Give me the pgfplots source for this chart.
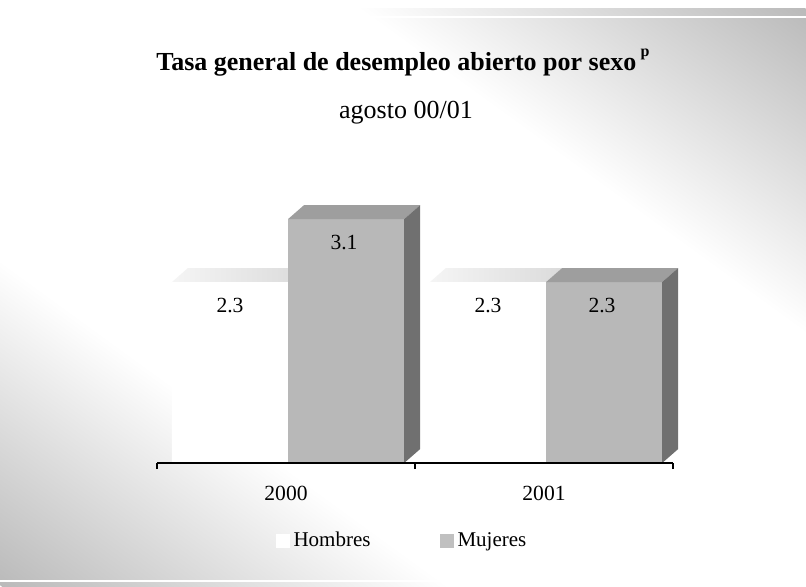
\documentclass[border=0pt]{standalone}
\usepackage{fontspec}
\setmainfont{Liberation Serif}
\usepackage{pgfplots}
\pgfplotsset{compat=1.18}
\definecolor{bgg}{RGB}{186,186,186}
\definecolor{mujF}{RGB}{184,184,184}
\definecolor{mujT}{RGB}{158,158,158}
\definecolor{mujR}{RGB}{112,112,112}
\definecolor{legM}{RGB}{192,192,192}
\pgfdeclarehorizontalshading{bgshade}{100bp}{color(0bp)=(bgg); color(25bp)=(bgg); color(39bp)=(white); color(61bp)=(white); color(75bp)=(bgg); color(100bp)=(bgg)}
\begin{document}
\begin{tikzpicture}
\path[use as bounding box] (0,0) rectangle (403pt,293pt);
\fill[white] (0,0) rectangle (403pt,293pt);
\begin{scope}
\clip (0,0) rectangle (403pt,289pt);
\begin{scope}[transform canvas={rotate around={54:(201.5pt,144.5pt)}}]
\shade[shading=bgshade] (-33.5pt,-115.5pt) rectangle (436.5pt,404.5pt);
\end{scope}
\end{scope}
\fill[white] (0,284pt) rectangle (403pt,285pt);
\fill[white] (0,2pt) rectangle (403pt,2.8pt);
\node[font=\bfseries\fontsize{13}{15}\selectfont, anchor=base] at (201.5pt,258pt) {Tasa general de desempleo abierto por sexo\,\raisebox{1.1ex}{\fontsize{8}{9}\selectfont p}};
\node[font=\fontsize{13}{15}\selectfont, anchor=base] at (203pt,234pt) {agosto 00/01};
\begin{axis}[at={(78.5pt,61.5pt)}, anchor=south west, scale only axis,
  width=258pt, height=137.7pt,
  xmin=-0.5, xmax=1.5, ymin=0, ymax=3.5, clip=false, axis on top,
  axis x line*=bottom, axis y line=none,
  x axis line style={-, line width=1pt},
  xtick={0,1}, xticklabels={2000,2001}, major tick length=0pt,
  minor xtick={-0.5,0.5,1.5}, minor tick length=3pt, tick align=outside,
  minor tick style={line width=0.8pt, black},
  ticklabel style={font=\fontsize{10.8}{12}\selectfont},
  xticklabel style={yshift=-8pt},
  /pgf/number format/assume math mode=true,
  /pgf/number format/.cd, fixed, fixed zerofill, precision=1, /pgfplots/.cd,
  legend style={draw=none, fill=none, at={(0.4767,-0.283)}, anchor=center,
    legend columns=2, font=\fontsize{10.5}{12}\selectfont,
    /tikz/every even column/.append style={column sep=32.5pt}},
  legend cell align=left,
]
% Hombres top faces
\addplot[draw=none, left color=gray!8, right color=gray!28, forget plot] coordinates {(-0.442,2.3) (-0.380,2.478) (0.070,2.478) (0.008,2.3)} -- cycle;
\addplot[draw=none, left color=gray!8, right color=gray!28, forget plot] coordinates {(0.558,2.3) (0.620,2.478) (1.070,2.478) (1.008,2.3)} -- cycle;
% Hombres fronts
\addplot[ybar, bar width=0.45, bar shift=-0.217, fill=white, draw=none,
  nodes near coords, every node near coord/.append style={anchor=center, xshift=-28pt, yshift=-11.5pt, font=\fontsize{10.8}{12}\selectfont},
  legend image code/.code={\fill[white] (0pt,-3.5pt) rectangle (7pt,3.5pt);}]
  coordinates {(0,2.3) (1,2.3)};
\addlegendentry{Hombres}
% Mujeres fronts
\addplot[ybar, bar width=0.45, bar shift=0.233, fill=mujF, draw=none,
  nodes near coords, every node near coord/.append style={anchor=center, xshift=29pt, yshift=-11.5pt, font=\fontsize{10.8}{12}\selectfont},
  legend image code/.code={\fill[legM] (0pt,-3.5pt) rectangle (7pt,3.5pt);}]
  coordinates {(0,3.1) (1,2.3)};
\addlegendentry{Mujeres}
% Mujeres top faces
\addplot[draw=none, fill=mujT, forget plot] coordinates {(0.008,3.1) (0.070,3.278) (0.520,3.278) (0.458,3.1)} -- cycle;
\addplot[draw=none, fill=mujT, forget plot] coordinates {(1.008,2.3) (1.070,2.478) (1.520,2.478) (1.458,2.3)} -- cycle;
% Mujeres right faces
\addplot[draw=none, fill=mujR, forget plot] coordinates {(0.458,0) (0.520,0.178) (0.520,3.278) (0.458,3.1)} -- cycle;
\addplot[draw=none, fill=mujR, forget plot] coordinates {(1.458,0) (1.520,0.178) (1.520,2.478) (1.458,2.3)} -- cycle;
\end{axis}
\end{tikzpicture}
\end{document}
